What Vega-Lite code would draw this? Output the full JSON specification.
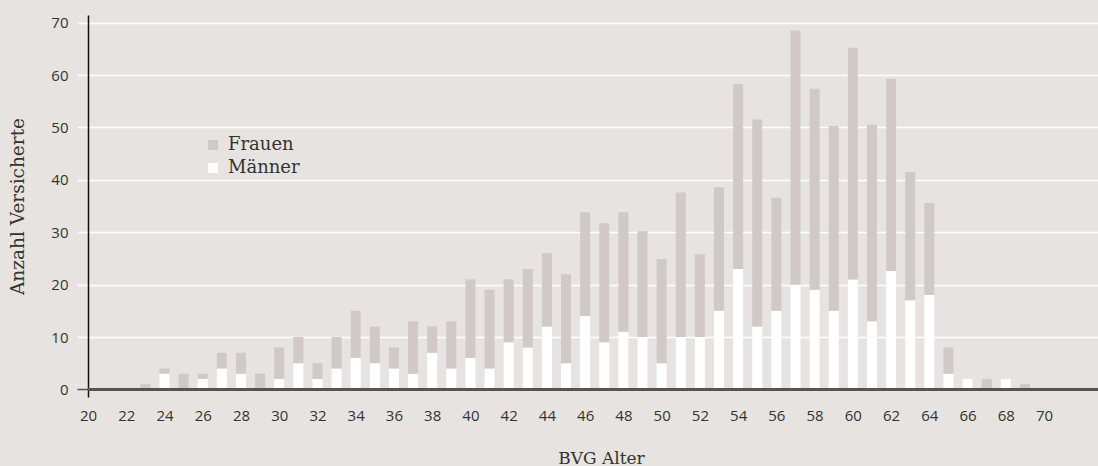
{
  "$schema": "https://vega.github.io/schema/vega-lite/v6.json",
  "width": 1010,
  "height": 382,
  "autosize": {"type": "none"},
  "padding": {"left": 88, "top": 15, "right": 0, "bottom": 69},
  "background": "#e7e3e0",
  "config": {
    "view": {"stroke": null},
    "axis": {"labelFont": "Open Sans", "labelFontSize": 15, "labelColor": "#333", "titleFont": "DejaVu Serif", "titleFontSize": 17, "titleFontWeight": "normal", "titleColor": "#333"},
    "legend": {"labelFont": "DejaVu Serif", "labelFontSize": 18, "labelColor": "#333"}
  },
  "data": {
    "values": [
      {"Alter": 23, "Geschlecht": "Frauen", "Anzahl": 1},
      {"Alter": 24, "Geschlecht": "Männer", "Anzahl": 3},
      {"Alter": 24, "Geschlecht": "Frauen", "Anzahl": 1},
      {"Alter": 25, "Geschlecht": "Frauen", "Anzahl": 3},
      {"Alter": 26, "Geschlecht": "Männer", "Anzahl": 2},
      {"Alter": 26, "Geschlecht": "Frauen", "Anzahl": 1},
      {"Alter": 27, "Geschlecht": "Männer", "Anzahl": 4},
      {"Alter": 27, "Geschlecht": "Frauen", "Anzahl": 3},
      {"Alter": 28, "Geschlecht": "Männer", "Anzahl": 3},
      {"Alter": 28, "Geschlecht": "Frauen", "Anzahl": 4},
      {"Alter": 29, "Geschlecht": "Frauen", "Anzahl": 3},
      {"Alter": 30, "Geschlecht": "Männer", "Anzahl": 2},
      {"Alter": 30, "Geschlecht": "Frauen", "Anzahl": 6},
      {"Alter": 31, "Geschlecht": "Männer", "Anzahl": 5},
      {"Alter": 31, "Geschlecht": "Frauen", "Anzahl": 5},
      {"Alter": 32, "Geschlecht": "Männer", "Anzahl": 2},
      {"Alter": 32, "Geschlecht": "Frauen", "Anzahl": 3},
      {"Alter": 33, "Geschlecht": "Männer", "Anzahl": 4},
      {"Alter": 33, "Geschlecht": "Frauen", "Anzahl": 6},
      {"Alter": 34, "Geschlecht": "Männer", "Anzahl": 6},
      {"Alter": 34, "Geschlecht": "Frauen", "Anzahl": 9},
      {"Alter": 35, "Geschlecht": "Männer", "Anzahl": 5},
      {"Alter": 35, "Geschlecht": "Frauen", "Anzahl": 7},
      {"Alter": 36, "Geschlecht": "Männer", "Anzahl": 4},
      {"Alter": 36, "Geschlecht": "Frauen", "Anzahl": 4},
      {"Alter": 37, "Geschlecht": "Männer", "Anzahl": 3},
      {"Alter": 37, "Geschlecht": "Frauen", "Anzahl": 10},
      {"Alter": 38, "Geschlecht": "Männer", "Anzahl": 7},
      {"Alter": 38, "Geschlecht": "Frauen", "Anzahl": 5},
      {"Alter": 39, "Geschlecht": "Männer", "Anzahl": 4},
      {"Alter": 39, "Geschlecht": "Frauen", "Anzahl": 9},
      {"Alter": 40, "Geschlecht": "Männer", "Anzahl": 6},
      {"Alter": 40, "Geschlecht": "Frauen", "Anzahl": 15},
      {"Alter": 41, "Geschlecht": "Männer", "Anzahl": 4},
      {"Alter": 41, "Geschlecht": "Frauen", "Anzahl": 15},
      {"Alter": 42, "Geschlecht": "Männer", "Anzahl": 9},
      {"Alter": 42, "Geschlecht": "Frauen", "Anzahl": 12},
      {"Alter": 43, "Geschlecht": "Männer", "Anzahl": 8},
      {"Alter": 43, "Geschlecht": "Frauen", "Anzahl": 15},
      {"Alter": 44, "Geschlecht": "Männer", "Anzahl": 12},
      {"Alter": 44, "Geschlecht": "Frauen", "Anzahl": 14},
      {"Alter": 45, "Geschlecht": "Männer", "Anzahl": 5},
      {"Alter": 45, "Geschlecht": "Frauen", "Anzahl": 17},
      {"Alter": 46, "Geschlecht": "Männer", "Anzahl": 14},
      {"Alter": 46, "Geschlecht": "Frauen", "Anzahl": 19.8},
      {"Alter": 47, "Geschlecht": "Männer", "Anzahl": 9},
      {"Alter": 47, "Geschlecht": "Frauen", "Anzahl": 22.7},
      {"Alter": 48, "Geschlecht": "Männer", "Anzahl": 11},
      {"Alter": 48, "Geschlecht": "Frauen", "Anzahl": 22.8},
      {"Alter": 49, "Geschlecht": "Männer", "Anzahl": 10},
      {"Alter": 49, "Geschlecht": "Frauen", "Anzahl": 20.2},
      {"Alter": 50, "Geschlecht": "Männer", "Anzahl": 5},
      {"Alter": 50, "Geschlecht": "Frauen", "Anzahl": 19.9},
      {"Alter": 51, "Geschlecht": "Männer", "Anzahl": 10},
      {"Alter": 51, "Geschlecht": "Frauen", "Anzahl": 27.6},
      {"Alter": 52, "Geschlecht": "Männer", "Anzahl": 10},
      {"Alter": 52, "Geschlecht": "Frauen", "Anzahl": 15.8},
      {"Alter": 53, "Geschlecht": "Männer", "Anzahl": 15},
      {"Alter": 53, "Geschlecht": "Frauen", "Anzahl": 23.6},
      {"Alter": 54, "Geschlecht": "Männer", "Anzahl": 23},
      {"Alter": 54, "Geschlecht": "Frauen", "Anzahl": 35.3},
      {"Alter": 55, "Geschlecht": "Männer", "Anzahl": 12},
      {"Alter": 55, "Geschlecht": "Frauen", "Anzahl": 39.5},
      {"Alter": 56, "Geschlecht": "Männer", "Anzahl": 15},
      {"Alter": 56, "Geschlecht": "Frauen", "Anzahl": 21.6},
      {"Alter": 57, "Geschlecht": "Männer", "Anzahl": 20},
      {"Alter": 57, "Geschlecht": "Frauen", "Anzahl": 48.5},
      {"Alter": 58, "Geschlecht": "Männer", "Anzahl": 19},
      {"Alter": 58, "Geschlecht": "Frauen", "Anzahl": 38.4},
      {"Alter": 59, "Geschlecht": "Männer", "Anzahl": 15},
      {"Alter": 59, "Geschlecht": "Frauen", "Anzahl": 35.3},
      {"Alter": 60, "Geschlecht": "Männer", "Anzahl": 21},
      {"Alter": 60, "Geschlecht": "Frauen", "Anzahl": 44.2},
      {"Alter": 61, "Geschlecht": "Männer", "Anzahl": 13},
      {"Alter": 61, "Geschlecht": "Frauen", "Anzahl": 37.5},
      {"Alter": 62, "Geschlecht": "Männer", "Anzahl": 22.6},
      {"Alter": 62, "Geschlecht": "Frauen", "Anzahl": 36.7},
      {"Alter": 63, "Geschlecht": "Männer", "Anzahl": 17},
      {"Alter": 63, "Geschlecht": "Frauen", "Anzahl": 24.5},
      {"Alter": 64, "Geschlecht": "Männer", "Anzahl": 18},
      {"Alter": 64, "Geschlecht": "Frauen", "Anzahl": 17.6},
      {"Alter": 65, "Geschlecht": "Männer", "Anzahl": 3},
      {"Alter": 65, "Geschlecht": "Frauen", "Anzahl": 5},
      {"Alter": 66, "Geschlecht": "Männer", "Anzahl": 2},
      {"Alter": 67, "Geschlecht": "Frauen", "Anzahl": 2},
      {"Alter": 68, "Geschlecht": "Männer", "Anzahl": 2},
      {"Alter": 69, "Geschlecht": "Frauen", "Anzahl": 1}
    ]
  },
  "layer": [
    {
      "mark": {"type": "bar", "size": 10},
      "encoding": {
        "x": {
          "field": "Alter", "type": "quantitative",
          "scale": {"domain": [20, 72.82], "nice": false, "zero": false, "padding": 0},
          "axis": {"title": "BVG Alter", "values": [20,22,24,26,28,30,32,34,36,38,40,42,44,46,48,50,52,54,56,58,60,62,64,66,68,70], "domain": false, "ticks": false, "grid": false, "labelFlush": false, "labelPadding": 11, "titlePadding": 27, "titleX": 513}
        },
        "y": {
          "field": "Anzahl", "type": "quantitative", "stack": "zero",
          "scale": {"domain": [-1.45, 71.47], "nice": false, "zero": false},
          "axis": {
            "title": "Anzahl Versicherte",
            "titleFontSize": 18.5,
            "values": [0,10,20,30,40,50,60,70],
            "domainColor": "#111", "domainWidth": 1.5,
            "tickSize": 11, "tickWidth": 1.5,
            "tickColor": {"condition": {"test": "datum.value === 0", "value": "#555"}, "value": "#ffffff"},
            "gridColor": {"condition": {"test": "datum.value === 0", "value": "#555"}, "value": "#ffffff"},
            "gridWidth": 1.5,
            "labelPadding": 9, "titlePadding": 23
          }
        },
        "color": {
          "field": "Geschlecht", "type": "nominal",
          "scale": {"domain": ["Frauen", "Männer"], "range": ["#d0c9c6", "#ffffff"]},
          "legend": {"title": null, "orient": "none", "legendX": 116, "legendY": 121, "symbolType": "square", "symbolSize": 100, "symbolStrokeWidth": 0, "labelOffset": 6, "rowPadding": 5}
        },
        "order": {"field": "Geschlecht", "sort": "descending"}
      }
    },
    {
      "mark": {"type": "rule", "color": "#555", "strokeWidth": 2},
      "encoding": {"y": {"datum": 0, "type": "quantitative"}}
    }
  ]
}
